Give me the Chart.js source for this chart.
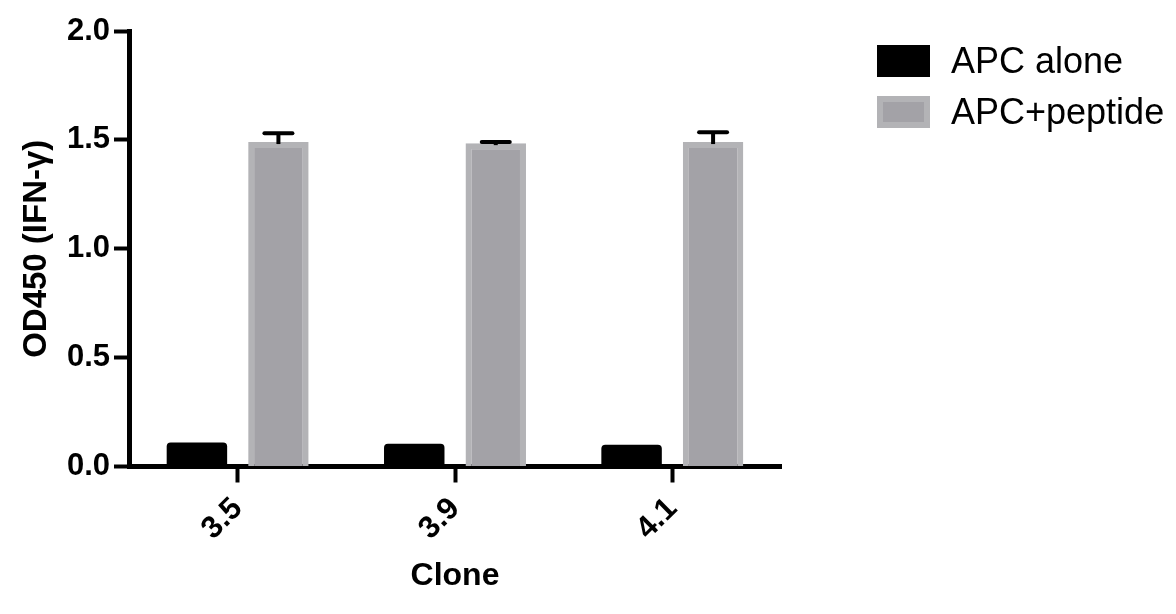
<!DOCTYPE html>
<html><head><meta charset="utf-8">
<script src="https://cdn.jsdelivr.net/npm/chart.js@4/dist/chart.umd.min.js"></script>
<style>html,body{margin:0;padding:0;background:#fff;} canvas{display:block;}</style>
</head><body>
<canvas id="c" width="1176" height="614"></canvas>
<script>
// ---- data ----
const categories = ['3.5', '3.9', '4.1'];
const seriesNames = ['APC alone', 'APC+peptide'];
const apcAlone = [0.11, 0.105, 0.10];
const apcPeptide = [1.49, 1.485, 1.49];
const apcPeptideErr = [0.04, 0.005, 0.045];
const yTicks = [0, 0.5, 1.0, 1.5, 2.0];
const xTitle = 'Clone';
const yTitle = 'OD450 (IFN-\u03b3)';

const FONT = "'Liberation Sans', Arial, sans-serif";
const BLACK = '#000000';
const GREY_IN = '#a3a2a7';
const GREY_OUT = '#b3b3b6';

const errorBarPlugin = {
  id: 'errorBars',
  afterDatasetsDraw(chart) {
    const ctx = chart.ctx;
    const meta = chart.getDatasetMeta(1);
    const ys = chart.scales.y;
    ctx.save();
    ctx.strokeStyle = BLACK;
    ctx.lineWidth = 4;
    meta.data.forEach((bar, i) => {
      const top = ys.getPixelForValue(apcPeptide[i] + apcPeptideErr[i]);
      const base = ys.getPixelForValue(apcPeptide[i]);
      ctx.lineCap = 'butt';
      ctx.beginPath();
      ctx.moveTo(bar.x, base + 2);
      ctx.lineTo(bar.x, top);
      ctx.stroke();
      ctx.lineCap = 'round';
      ctx.beginPath();
      ctx.moveTo(bar.x - 14, top);
      ctx.lineTo(bar.x + 14, top);
      ctx.stroke();
    });
    ctx.restore();
  }
};

const legendPlugin = {
  id: 'customLegend',
  afterDraw(chart) {
    const ctx = chart.ctx;
    const x0 = 877, w = 53, h = 32;
    const rows = [61, 112];
    ctx.save();
    ctx.font = "36px " + FONT;
    ctx.textBaseline = 'middle';
    chart.data.datasets.forEach((ds, i) => {
      const cy = rows[i];
      const bw = ds.borderWidth || 0;
      if (bw) {
        ctx.fillStyle = ds.borderColor;
        ctx.fillRect(x0, cy - h / 2, w, h);
        ctx.fillStyle = ds.backgroundColor;
        ctx.fillRect(x0 + bw, cy - h / 2 + bw, w - 2 * bw, h - 2 * bw);
      } else {
        ctx.fillStyle = ds.backgroundColor;
        ctx.fillRect(x0, cy - h / 2, w, h);
      }
      ctx.fillStyle = BLACK;
      ctx.fillText(ds.label, 951, cy + 2);
    });
    ctx.restore();
  }
};

new Chart(document.getElementById('c'), {
  type: 'bar',
  data: {
    labels: categories,
    datasets: [
      {
        label: seriesNames[0],
        data: apcAlone,
        backgroundColor: BLACK,
        borderWidth: 0,
        borderRadius: {topLeft: 4, topRight: 4, bottomLeft: 0, bottomRight: 0},
        borderSkipped: false,
        categoryPercentage: 0.75,
        barPercentage: 0.742
      },
      {
        label: seriesNames[1],
        data: apcPeptide,
        backgroundColor: GREY_IN,
        borderColor: GREY_OUT,
        borderWidth: 6,
        borderSkipped: 'start',
        categoryPercentage: 0.75,
        barPercentage: 0.742
      }
    ]
  },
  options: {
    responsive: false,
    animation: false,
    devicePixelRatio: 1,
    layout: {padding: {left: 0, top: 31, right: 395, bottom: 0}},
    plugins: {legend: {display: false}, tooltip: {enabled: false}},
    scales: {
      x: {
        z: 1,
        offset: true,
        grid: {display: true, drawOnChartArea: false, offset: false, tickLength: 16, tickWidth: 4, tickColor: BLACK},
        border: {display: true, color: BLACK, width: 5},
        ticks: {color: BLACK, font: {family: FONT, size: 31, weight: 'bold'}, minRotation: 45, maxRotation: 45, padding: 8},
        title: {display: true, text: xTitle, color: BLACK, font: {family: FONT, size: 32, weight: 'bold'}, padding: {top: 0, bottom: 19}},
        afterFit(scale) { scale.height = 614 - 466.5; }
      },
      y: {
        z: 1,
        min: 0, max: 2,
        afterBuildTicks(scale) { scale.ticks = yTicks.map(v => ({value: v})); },
        grid: {display: true, drawOnChartArea: false, tickLength: 15, tickWidth: 4, tickColor: BLACK},
        border: {display: true, color: BLACK, width: 5},
        ticks: {color: BLACK, font: {family: FONT, size: 31, weight: 'bold'}, padding: 4, callback: v => Number(v).toFixed(1)},
        title: {display: true, text: yTitle, color: BLACK, font: {family: FONT, size: 33, weight: 'bold'}, padding: {top: 17, bottom: 0}},
        afterFit(scale) { scale.width = 129; }
      }
    }
  },
  plugins: [errorBarPlugin, legendPlugin]
});
</script>
</body></html>
